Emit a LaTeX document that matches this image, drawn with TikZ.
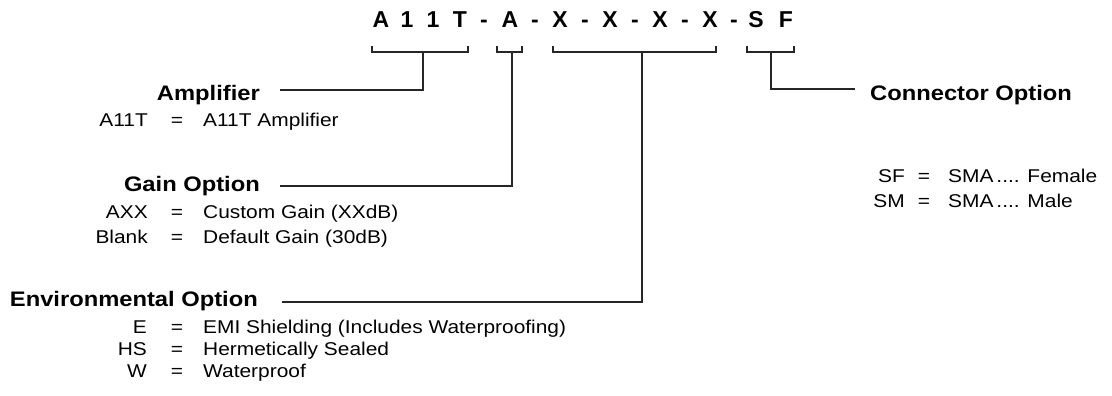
\documentclass[tikz,border=0pt]{standalone}
\usepackage{fontspec}
\setmainfont{Liberation Sans}[FakeStretch=1.13]
\newfontfamily\titlefont{Liberation Sans}
\usetikzlibrary{calc}
\tikzstyle{head} = [inner sep=0pt, font=\fontsize{21}{25}\selectfont\bfseries]
\tikzstyle{code} = [inner sep=0pt, anchor=base east, font=\fontsize{18.5}{22}\selectfont]
\tikzstyle{eq} = [inner sep=0pt, anchor=base, font=\fontsize{18.5}{22}\selectfont]
\tikzstyle{desc} = [inner sep=0pt, anchor=base west, font=\fontsize{18.5}{22}\selectfont]
\tikzstyle{lead} = [line width=1.1pt, color=black!85]

\begin{document}
\begin{tikzpicture}[x=1pt, y=-1pt]
        \useasboundingbox (0,0) rectangle (1112,396);

        % part number
        \foreach \x/\c [count=\i] in {381/A, 407/1, 433/1, 460/T, 484/-, 510/A, 535/-, 560/X, 585/-, 610/X, 635/-, 660/X, 685/-, 710/X, 734/-, 756/S, 786/F}
            \node(t\i) [inner sep=0pt, anchor=base, font=\fontsize{23}{27}\titlefont\bfseries] at (\x, 28) {\c};

        % brackets under the part number
        \foreach \a/\b/\m/\n in {372/468/423/brA, 497/522/512/brB, 553/716/642/brC, 747/794/771/brD} {
            \draw[lead] (\a, 46) -- (\a, 52) -- (\b, 52) -- (\b, 46);
            \coordinate(\n) at (\m, 52);
        }

        % amplifier
        \node(amp) [head, anchor=base east] at (260, 100) {Amplifier};
        \node(ampC1) [code] at (148, 126) {A11T};
        \node(ampE1) [eq] at (177, 126) {=};
        \node(ampD1) [desc] at (203, 126) {A11T Amplifier};
        \coordinate(ampL) at (280, 90);
        \draw[lead] (ampL) -| (brA);

        % gain
        \node(gain) [head, anchor=base east] at (260, 191) {Gain Option};
        \node(gainC1) [code] at (148, 218) {AXX};
        \node(gainE1) [eq] at (177, 218) {=};
        \node(gainD1) [desc] at (203, 218) {Custom Gain (XXdB)};
        \node(gainC2) [code] at (148, 243) {Blank};
        \node(gainE2) [eq] at (177, 243) {=};
        \node(gainD2) [desc] at (203, 243) {Default Gain (30dB)};
        \coordinate(gainL) at (280, 186);
        \draw[lead] (gainL) -| (brB);

        % environmental
        \node(env) [head, anchor=base east] at (258, 306) {Environmental Option};
        \node(envC1) [code] at (147, 333) {E};
        \node(envE1) [eq] at (177, 333) {=};
        \node(envD1) [desc] at (203, 333) {EMI Shielding (Includes Waterproofing)};
        \node(envC2) [code] at (147, 355) {HS};
        \node(envE2) [eq] at (177, 355) {=};
        \node(envD2) [desc] at (203, 355) {Hermetically Sealed};
        \node(envC3) [code] at (147, 377) {W};
        \node(envE3) [eq] at (177, 377) {=};
        \node(envD3) [desc] at (203, 377) {Waterproof};
        \coordinate(envL) at (282, 302);
        \draw[lead] (envL) -| (brC);

        % connector
        \node(conn) [head, anchor=base west] at (870, 101) {Connector Option};
        \node(connC1) [code] at (905, 182) {SF};
        \node(connE1) [eq] at (924, 182) {=};
        \node(connD1) [desc] at (948, 182) {SMA\kern3pt.... Female};
        \node(connC2) [code] at (905, 207) {SM};
        \node(connE2) [eq] at (924, 207) {=};
        \node(connD2) [desc] at (948, 207) {SMA\kern3pt.... Male};
        \coordinate(connL) at (855, 89);
        \draw[lead] (connL) -| (brD);
    \end{tikzpicture}
\end{document}
